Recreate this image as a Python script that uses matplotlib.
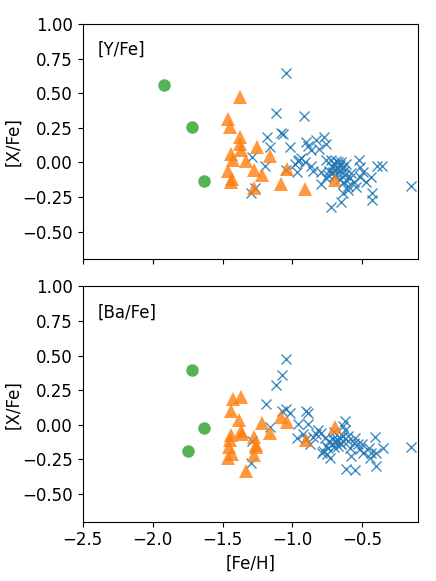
import numpy as np
import matplotlib
matplotlib.use('Agg')
import matplotlib.pyplot as plt

# [Y/Fe] panel
y_green_feh = [-1.917, -1.717, -1.631]
y_green_val = [0.558, 0.256, -0.138]

y_orange_feh = [-1.373, -1.460, -1.450, -1.373, -1.376, -1.367, -1.253, -1.441, -1.424,
                -1.334, -1.157, -1.460, -1.276, -1.221, -1.038, -1.431, -1.436, -1.275,
                -1.079, -0.907, -0.693]
y_orange_val = [0.473, 0.312, 0.254, 0.184, 0.135, 0.090, 0.110, 0.058, 0.017,
                0.010, 0.043, -0.060, -0.053, -0.090, -0.046, -0.120, -0.142, -0.182,
                -0.155, -0.196, -0.130]

y_blue_feh = [-1.043, -1.119, -0.917, -1.083, -1.065, -1.180, -1.162, -1.014, -1.288, -1.193,
              -1.293, -1.270, -1.048, -0.964, -0.955, -0.936, -0.912, -0.900, -0.888, -0.864,
              -0.829, -0.812, -0.776, -0.762, -0.757, -0.793, -0.793, -0.745, -0.726, -0.714,
              -0.702, -0.686, -0.674, -0.662, -0.650, -0.657, -0.638, -0.614, -0.626, -0.650,
              -0.638, -0.602, -0.614, -0.579, -0.562, -0.543, -0.524, -0.519, -0.519, -0.495,
              -0.471, -0.436, -0.429, -0.429, -0.393, -0.357, -0.150, -0.740, -0.720, -0.700,
              -0.680, -0.660, -0.640, -0.600, -0.850, -0.980, -0.960, -0.725, -0.870, -0.690,
              -0.670, -0.710, -0.630, -0.760, -0.590]
y_blue_val = [0.645, 0.355, 0.335, 0.210, 0.205, 0.180, 0.110, 0.110, 0.040, -0.030,
              -0.220, -0.185, -0.055, -0.070, 0.020, 0.030, 0.000, 0.150, 0.115, -0.030,
              0.160, 0.100, 0.180, 0.135, 0.015, -0.070, -0.155, -0.095, -0.325, -0.035,
              -0.010, -0.045, 0.000, -0.020, 0.000, -0.060, -0.035, -0.010, -0.095, -0.285,
              -0.225, -0.200, -0.130, -0.080, -0.145, -0.180, 0.015, -0.035, -0.105, -0.070,
              -0.145, -0.105, -0.225, -0.275, -0.025, -0.025, -0.170, -0.060, -0.080, -0.100,
              -0.080, -0.120, -0.150, -0.170, -0.065, -0.010, 0.010, 0.020, 0.090, 0.010,
              -0.040, -0.070, -0.060, -0.110, -0.110]

# [Ba/Fe] panel
ba_green_feh = [-1.717, -1.631, -1.745]
ba_green_val = [0.396, -0.024, -0.188]

ba_orange_feh = [-1.424, -1.371, -1.436, -1.381, -1.371, -1.360, -1.436, -1.448, -1.455,
                 -1.431, -1.460, -1.276, -1.264, -1.257, -1.276, -1.329, -1.221, -1.157,
                 -1.079, -1.038, -0.905, -0.693]
ba_orange_val = [0.186, 0.203, 0.101, 0.034, -0.043, -0.063, -0.072, -0.111, -0.157,
                 -0.213, -0.242, -0.087, -0.145, -0.157, -0.217, -0.333, 0.010, -0.056,
                 0.053, 0.024, -0.111, -0.019]

ba_blue_feh = [-1.043, -1.071, -1.119, -1.186, -1.157, -1.286, -1.293, -1.071, -1.043, -1.019,
               -0.960, -0.900, -0.888, -0.964, -0.924, -0.888, -0.876, -0.829, -0.793, -0.769,
               -0.745, -0.733, -0.781, -0.710, -0.690, -0.662, -0.650, -0.638, -0.626, -0.638,
               -0.602, -0.590, -0.614, -0.555, -0.579, -0.555, -0.531, -0.519, -0.495, -0.448,
               -0.412, -0.436, -0.402, -0.352, -0.150, -0.720, -0.700, -0.680, -0.660, -0.670,
               -0.740, -0.760, -0.620, -0.600, -0.700, -0.820, -0.850, -0.900, -0.560, -0.500,
               -0.450, -0.400, -0.790, -0.750]
ba_blue_val = [0.476, 0.360, 0.287, 0.150, -0.019, -0.116, -0.273, 0.097, 0.114, 0.089,
               0.005, 0.101, 0.089, -0.092, -0.068, 0.005, -0.140, -0.068, -0.056, -0.092,
               -0.164, -0.237, -0.188, -0.104, -0.123, -0.092, -0.140, -0.080, 0.029, -0.007,
               -0.116, -0.164, -0.321, -0.328, -0.225, -0.092, -0.140, -0.176, -0.200, -0.237,
               -0.087, -0.200, -0.297, -0.164, -0.162, -0.140, -0.160, -0.100, -0.130, -0.150,
               -0.120, -0.150, -0.040, -0.080, -0.050, -0.040, -0.090, -0.100, -0.130, -0.140,
               -0.170, -0.200, -0.200, -0.210]

fs = 12

fig, axes = plt.subplots(2, 1, figsize=(4.36, 5.81), dpi=100, sharex=True)
plt.subplots_adjust(left=0.19, right=0.959, top=0.9587, bottom=0.1021, hspace=0.116)

panels = [
    (axes[0], '[Y/Fe]', y_blue_feh, y_blue_val, y_orange_feh, y_orange_val, y_green_feh, y_green_val),
    (axes[1], '[Ba/Fe]', ba_blue_feh, ba_blue_val, ba_orange_feh, ba_orange_val, ba_green_feh, ba_green_val),
]

for ax, name, bx, by, ox, oy, gx, gy in panels:
    ax.plot(bx, by, 'x', color='tab:blue', markersize=7.5, markeredgewidth=1.0, alpha=0.85, linestyle='none')
    ax.plot(ox, oy, '^', color='tab:orange', markersize=9.5, alpha=0.8, markeredgewidth=0, linestyle='none')
    ax.plot(gx, gy, 'o', color='tab:green', markersize=9, alpha=0.8, markeredgewidth=0, linestyle='none')
    ax.set_xlim(-2.5, -0.1)
    ax.set_ylim(-0.7, 1.0)
    ax.set_yticks([-0.5, -0.25, 0.0, 0.25, 0.5, 0.75, 1.0])
    ax.set_ylabel('[X/Fe]', fontsize=fs)
    ax.yaxis.set_label_coords(-0.18, 0.5)
    ax.tick_params(labelsize=fs)
    ax.text(0.043, 0.89, name, transform=ax.transAxes, fontsize=fs, va='center')

axes[1].set_xticks([-2.5, -2.0, -1.5, -1.0, -0.5])
axes[1].set_xlabel('[Fe/H]', fontsize=fs)

plt.savefig('out.png', dpi=100)
